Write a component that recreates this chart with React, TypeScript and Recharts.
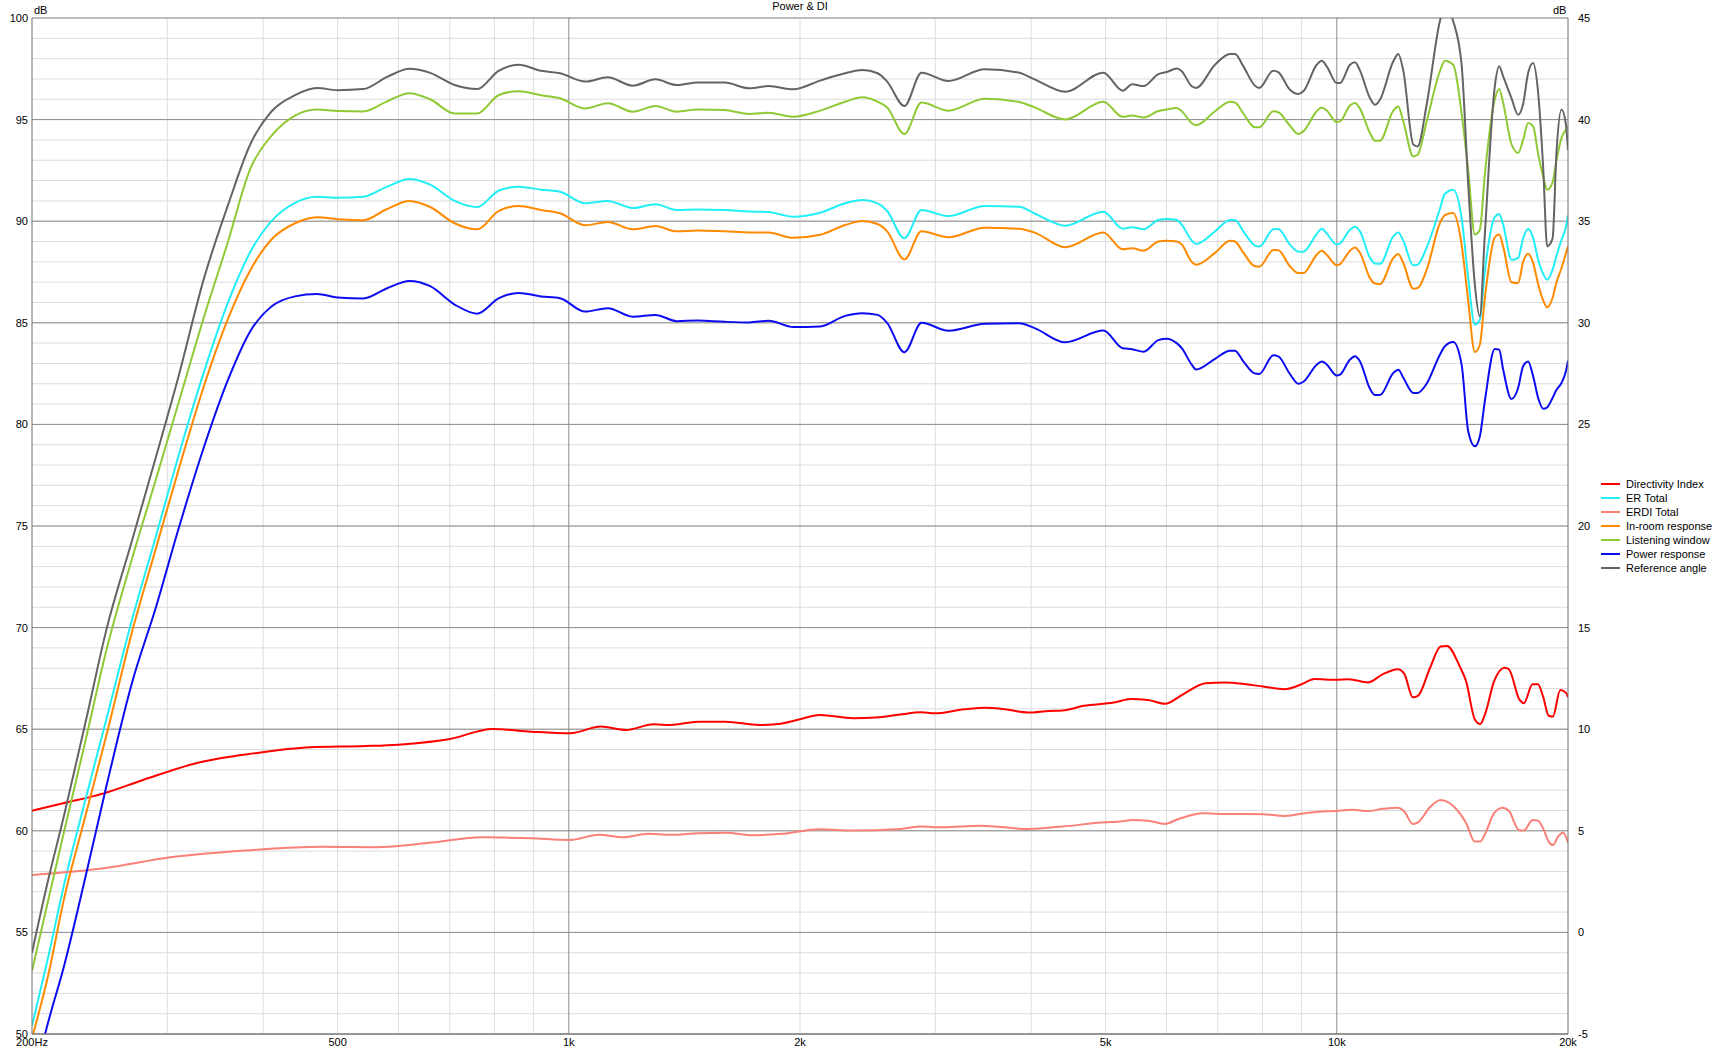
import { LineChart, Line, XAxis, YAxis, CartesianGrid } from "recharts";

// frequency grid (Hz) for the five level curves
const freqMain = [
  200, 210, 220, 235, 250, 270, 290, 310, 335, 360, 385, 410, 440, 470, 500, 540, 580, 620, 660, 710, 760, 810, 860, 920, 974,
  1050, 1124, 1211, 1297, 1382, 1472, 1595, 1718, 1820, 1961, 2124, 2290, 2411, 2524, 2597, 2735, 2879, 3121, 3480, 3858, 4041,
  4429, 4966, 5262, 5414, 5604,
  5856, 6004, 6188, 6282, 6473, 6557, 6941, 7260, 7370, 7556, 7824, 7926, 8266, 8390, 8689, 8909, 9045, 9415, 9557, 9702,
  9997, 10097, 10404, 10560, 10720, 11045, 11212, 11382, 11845, 12024, 12206, 12577, 12741, 13090, 13621, 13826, 14177,
  14538, 14829, 15126, 15354, 15586, 16059, 16270, 16466, 16881, 17222, 17482, 17746, 18016, 18289, 18567, 18790, 19094,
  19324, 19614, 19870, 20000,
];

const referenceAngle = [
  54.0, 57.6, 60.7, 65.4, 69.9, 74.3, 78.4, 82.3, 87.2, 90.8, 93.8, 95.4, 96.2, 96.55, 96.45, 96.5, 97.1, 97.5, 97.3, 96.7, 96.5, 97.4, 97.7, 97.4, 97.28,
  96.87, 97.08, 96.67, 96.98, 96.7, 96.82, 96.82, 96.54, 96.65, 96.49, 96.92, 97.28, 97.44, 97.28, 96.87, 95.67, 97.31, 96.9, 97.48, 97.31, 96.98,
  96.37, 97.31, 96.42, 96.74, 96.65,
  97.24, 97.34, 97.51, 97.38, 96.64, 96.56, 97.7, 98.23, 98.23, 97.62, 96.67, 96.56, 97.41, 97.34, 96.47, 96.26, 96.39, 97.7, 97.9, 97.62,
  96.8, 96.8, 97.7, 97.82, 97.41, 96.06, 95.73, 95.98, 97.87, 98.23, 97.41, 93.77, 93.68, 95.73, 99.84, 100.6, 99.84,
  97.7, 91.8, 86.88, 85.32, 89.34, 96.64, 97.62, 97.13, 96.06, 95.24, 95.77, 97.29, 97.79, 96.31, 92.62, 88.76, 89.14,
  93.44, 95.5, 94.8, 93.5,
];

const listeningWindow = [
  53.1, 56.6, 59.9, 64.5, 68.9, 73.4, 77.3, 81.0, 85.3, 89.0, 92.6, 94.2, 95.2, 95.5, 95.42, 95.4, 95.9, 96.3, 96.0, 95.3, 95.3, 96.2, 96.4, 96.2, 96.05,
  95.55, 95.8, 95.39, 95.67, 95.39, 95.5, 95.47, 95.28, 95.34, 95.14, 95.44, 95.88, 96.1, 95.88, 95.6, 94.29, 95.84, 95.44, 96.03, 95.87, 95.6,
  95.01, 95.88, 95.14, 95.2, 95.1,
  95.42, 95.5, 95.57, 95.41, 94.83, 94.72, 95.41, 95.88, 95.84, 95.3, 94.62, 94.62, 95.41, 95.36, 94.7, 94.29, 94.42, 95.41, 95.6, 95.45,
  94.88, 94.91, 95.7, 95.82, 95.54, 94.34, 93.96, 93.96, 95.44, 95.65, 94.91, 93.19, 93.27, 94.9, 97.38, 97.9, 97.7,
  95.3, 92.5, 89.34, 89.58, 92.29, 96.0, 96.51, 95.82, 93.8, 93.36, 94.0, 94.83, 94.67, 93.3, 92.2, 91.55, 91.9,
  93.0, 94.1, 94.5, 94.67,
];

const erTotal = [
  50.4, 53.8, 57.3, 61.6, 65.5, 70.4, 74.5, 78.4, 82.6, 86.0, 88.5, 90.0, 90.9, 91.2, 91.15, 91.2, 91.7, 92.08, 91.8, 91.0, 90.7, 91.5, 91.7, 91.55, 91.45,
  90.88, 91.0, 90.65, 90.83, 90.55, 90.58, 90.55, 90.48, 90.45, 90.22, 90.42, 90.88, 91.04, 90.88, 90.5, 89.16, 90.55, 90.25, 90.75, 90.71, 90.38,
  89.78, 90.47, 89.63, 89.7, 89.6,
  90.06, 90.11, 90.06, 89.83, 89.05, 88.88, 89.5, 90.06, 90.06, 89.5, 88.8, 88.75, 89.6, 89.62, 88.85, 88.5, 88.5, 89.37, 89.63, 89.4,
  88.85, 88.91, 89.58, 89.73, 89.5, 88.2, 87.92, 87.9, 89.25, 89.45, 89.04, 87.83, 87.86, 88.7, 90.6, 91.35, 91.55,
  90.16, 87.2, 84.91, 85.15, 87.53, 90.2, 90.35, 89.83, 88.1, 88.2, 89.15, 89.62, 89.17, 88.1, 87.4, 87.12, 87.61,
  88.3, 89.09, 89.7, 90.29,
];

const inRoom = [
  49.8, 52.9, 56.6, 60.8, 64.7, 69.8, 73.9, 77.7, 81.9, 85.2, 87.6, 89.1, 89.9, 90.2, 90.1, 90.05, 90.6, 91.0, 90.7, 89.9, 89.6, 90.5, 90.75, 90.55, 90.39,
  89.8, 89.96, 89.6, 89.76, 89.5, 89.54, 89.5, 89.45, 89.44, 89.18, 89.33, 89.81, 90.01, 89.86, 89.5, 88.12, 89.5, 89.21, 89.68, 89.63, 89.44,
  88.72, 89.45, 88.62, 88.67, 88.55,
  89.0, 89.04, 89.0, 88.85, 88.0, 87.86, 88.44, 89.04, 89.0, 88.45, 87.78, 87.76, 88.58, 88.57, 87.78, 87.45, 87.45, 88.35, 88.55, 88.35,
  87.83, 87.89, 88.55, 88.71, 88.44, 87.2, 86.93, 86.9, 88.19, 88.39, 87.94, 86.68, 86.71, 87.6, 89.9, 90.3, 90.4,
  88.85, 86.06, 83.56, 83.92, 86.22, 89.2, 89.34, 88.76, 87.0, 86.96, 88.0, 88.4, 87.94, 86.9, 86.1, 85.76, 86.22,
  87.0, 87.7, 88.4, 88.76,
];

const powerResponse = [
  47.4, 50.6, 53.3, 57.8, 62.2, 67.3, 71.0, 74.8, 78.9, 82.2, 84.6, 85.8, 86.3, 86.42, 86.25, 86.2, 86.7, 87.06, 86.8, 85.9, 85.45, 86.2, 86.47, 86.3, 86.21,
  85.55, 85.72, 85.3, 85.39, 85.08, 85.11, 85.05, 85.02, 85.1, 84.79, 84.82, 85.34, 85.47, 85.39, 85.0, 83.55, 85.0, 84.61, 84.95, 84.98, 84.74,
  84.04, 84.62, 83.75, 83.7, 83.58,
  84.15, 84.22, 84.0, 83.75, 82.94, 82.7, 83.23, 83.63, 83.63, 83.1, 82.5, 82.48, 83.4, 83.35, 82.48, 82.0, 82.1, 82.94, 83.1, 82.95,
  82.41, 82.45, 83.19, 83.35, 83.1, 81.75, 81.45, 81.45, 82.53, 82.69, 82.3, 81.55, 81.55, 82.0, 83.43, 83.85, 84.05,
  82.94, 79.66, 78.92, 79.41, 81.14, 83.71, 83.68, 82.7, 81.25, 81.79, 82.86, 83.1, 82.37, 81.3, 80.77, 80.84, 81.3,
  81.7, 82.04, 82.6, 83.14,
];

// directivity curves (right axis, dB)
const diFreq = [
  200, 221, 248, 279, 329, 389, 460, 543, 600, 697, 796, 894, 1004, 1101, 1187, 1289, 1356, 1473, 1600, 1768,
  1859, 1987, 2123, 2347, 2508, 2700, 2876, 2991, 3271, 3488, 3671, 3965, 4227, 4392, 4683, 5124, 5393, 5676, 5975, 6289,
  6749, 7149, 7621, 8015, 8550, 8999, 9352, 9974, 10365, 10979, 11483, 12012, 12244, 12560, 12754, 13219, 13650, 13913, 14460, 14740,
  15121, 15373, 15613, 16017, 16537, 16751, 17300, 17524, 17980, 18277, 18562, 18874, 19116, 19539, 19870, 20000,
];
const directivityIndex = [
  5.99, 6.38, 6.84, 7.5, 8.35, 8.81, 9.11, 9.17, 9.24, 9.5, 10.01, 9.88, 9.8, 10.13, 9.96, 10.24, 10.21, 10.37, 10.37, 10.21,
  10.24, 10.46, 10.7, 10.54, 10.57, 10.72, 10.83, 10.78, 10.98, 11.06, 11.0, 10.82, 10.9, 10.92, 11.15, 11.31, 11.49, 11.44, 11.25, 11.69,
  12.26, 12.3, 12.21, 12.1, 11.97, 12.21, 12.47, 12.43, 12.46, 12.3, 12.71, 12.95, 12.72, 11.57, 11.64, 13.0, 14.07, 14.1, 13.08, 12.34,
  10.49, 10.25, 10.79, 12.34, 13.03, 12.95, 11.44, 11.28, 12.21, 12.21, 11.6, 10.66, 10.62, 11.93, 11.8, 11.57,
];

const erdiFreq = [
  200, 248, 303, 389, 475, 561, 663, 770, 894, 1004, 1093, 1177, 1268, 1356, 1473, 1600, 1738, 1890, 2123, 2347,
  2700, 2876, 3068, 3444, 3965, 4392, 4992, 5187, 5427, 5676, 5975, 6209, 6706, 7149, 8015, 8550, 9234, 9974, 10496, 10979,
  11483, 12012, 12244, 12560, 12754, 13219, 13650, 13913, 14460, 14740, 15121, 15373, 15613, 16017, 16434, 16751, 17255, 17524, 17980, 18277,
  18562, 18874, 19116, 19409, 19716, 20000,
];
const erdiTotal = [
  2.83, 3.16, 3.7, 4.06, 4.21, 4.19, 4.42, 4.68, 4.63, 4.55, 4.8, 4.68, 4.85, 4.8, 4.88, 4.91, 4.78, 4.85, 5.08, 5.01,
  5.09, 5.21, 5.17, 5.25, 5.09, 5.21, 5.42, 5.45, 5.53, 5.5, 5.34, 5.57, 5.86, 5.83, 5.82, 5.73, 5.9, 5.98, 6.03, 5.97,
  6.08, 6.14, 5.95, 5.34, 5.41, 6.16, 6.52, 6.44, 5.86, 5.37, 4.47, 4.47, 4.88, 5.86, 6.14, 5.99, 5.04, 5.01, 5.53, 5.5,
  5.12, 4.47, 4.3, 4.71, 4.9, 4.42,
];

const xTicks = [200, 500, 1000, 2000, 5000, 10000, 20000];
const xMinor = [300, 400, 500, 600, 700, 800, 900, 2000, 3000, 4000, 5000, 6000, 7000, 8000, 9000];
const xMajor = [1000, 10000];
const leftTicks = [50, 55, 60, 65, 70, 75, 80, 85, 90, 95, 100];
const rightTicks = [-5, 0, 5, 10, 15, 20, 25, 30, 35, 40, 45];
const yMinor = Array.from({ length: 51 }, (_, i) => 50 + i);

const series = [
  { key: "di", name: "Directivity Index", color: "#ff0000" },
  { key: "er", name: "ER Total", color: "#22eef6" },
  { key: "erdi", name: "ERDI Total", color: "#fa8078" },
  { key: "ir", name: "In-room response", color: "#ff8a00" },
  { key: "lw", name: "Listening window", color: "#8fca35" },
  { key: "pr", name: "Power response", color: "#0c0cf0" },
  { key: "ref", name: "Reference angle", color: "#646464" },
];

const mainData = freqMain.map((f, i) => ({
  f,
  ref: referenceAngle[i],
  lw: listeningWindow[i],
  er: erTotal[i],
  ir: inRoom[i],
  pr: powerResponse[i],
}));
const diData = diFreq.map((f, i) => ({ f, v: directivityIndex[i] }));
const erdiData = erdiFreq.map((f, i) => ({ f, v: erdiTotal[i] }));

const font = '"Liberation Sans", Arial, sans-serif';
const fmtFreq = (f: number) => (f === 200 ? "200Hz" : f >= 1000 ? `${f / 1000}k` : `${f}`);
const colorOf = (k: string) => series.find((s) => s.key === k)!.color;

export default function App() {
  return (
    <div style={{ position: "absolute", left: 0, top: 0, width: 1720, height: 1052, background: "#fff", fontFamily: font }}>
      <LineChart width={1720} height={1052} data={mainData} margin={{ top: 18, right: 0, bottom: 0, left: 0 }}>
        <CartesianGrid xAxisId="x" yAxisId="left" stroke="#dcdcdc" verticalValues={xMinor} horizontalValues={yMinor} />
        <CartesianGrid xAxisId="x" yAxisId="left" stroke="#8c8c8c" verticalValues={xMajor} horizontalValues={leftTicks} />
        <XAxis
          xAxisId="x"
          dataKey="f"
          type="number"
          scale="log"
          domain={[200, 20000]}
          allowDataOverflow
          ticks={xTicks}
          tickFormatter={fmtFreq}
          height={18}
          tickSize={0}
          tickMargin={4}
          interval={0}
          stroke="#6e6e6e"
          tick={{ fontSize: 11, fill: "#000", fontFamily: font }}
        />
        <YAxis
          yAxisId="left"
          type="number"
          domain={[50, 100]}
          allowDataOverflow
          ticks={leftTicks}
          width={32}
          tickSize={0}
          tickMargin={4}
          interval={0}
          stroke="#6e6e6e"
          tick={{ fontSize: 11, fill: "#000", fontFamily: font }}
        />
        <YAxis
          yAxisId="right"
          orientation="right"
          type="number"
          domain={[-5, 45]}
          allowDataOverflow
          ticks={rightTicks}
          width={152}
          tickSize={0}
          tickMargin={10}
          interval={0}
          stroke="#6e6e6e"
          tick={{ fontSize: 11, fill: "#000", fontFamily: font, textAnchor: "start" }}
        />
        <Line xAxisId="x" yAxisId="right" data={diData} dataKey="v" type="monotone" stroke={colorOf("di")} strokeWidth={2} dot={false} activeDot={false} isAnimationActive={false} />
        <Line xAxisId="x" yAxisId="left" dataKey="er" type="monotone" stroke={colorOf("er")} strokeWidth={2} dot={false} activeDot={false} isAnimationActive={false} />
        <Line xAxisId="x" yAxisId="right" data={erdiData} dataKey="v" type="monotone" stroke={colorOf("erdi")} strokeWidth={2} dot={false} activeDot={false} isAnimationActive={false} />
        <Line xAxisId="x" yAxisId="left" dataKey="ir" type="monotone" stroke={colorOf("ir")} strokeWidth={2} dot={false} activeDot={false} isAnimationActive={false} />
        <Line xAxisId="x" yAxisId="left" dataKey="lw" type="monotone" stroke={colorOf("lw")} strokeWidth={2} dot={false} activeDot={false} isAnimationActive={false} />
        <Line xAxisId="x" yAxisId="left" dataKey="pr" type="monotone" stroke={colorOf("pr")} strokeWidth={2} dot={false} activeDot={false} isAnimationActive={false} />
        <Line xAxisId="x" yAxisId="left" dataKey="ref" type="monotone" stroke={colorOf("ref")} strokeWidth={2} dot={false} activeDot={false} isAnimationActive={false} />
      </LineChart>

      <div style={{ position: "absolute", left: 0, width: 1600, top: 0, textAlign: "center", fontSize: 11, color: "#000" }}>Power &amp; DI</div>
      <div style={{ position: "absolute", left: 34, top: 4, fontSize: 11, color: "#000" }}>dB</div>
      <div style={{ position: "absolute", left: 1553, top: 4, fontSize: 11, color: "#000" }}>dB</div>

      <div style={{ position: "absolute", left: 1601, top: 477, fontSize: 11, color: "#000" }}>
        {series.map((s) => (
          <div key={s.key} style={{ display: "flex", alignItems: "center", height: 14 }}>
            <span style={{ display: "inline-block", width: 19, height: 2, background: s.color, marginRight: 6 }} />
            <span>{s.name}</span>
          </div>
        ))}
      </div>
    </div>
  );
}
